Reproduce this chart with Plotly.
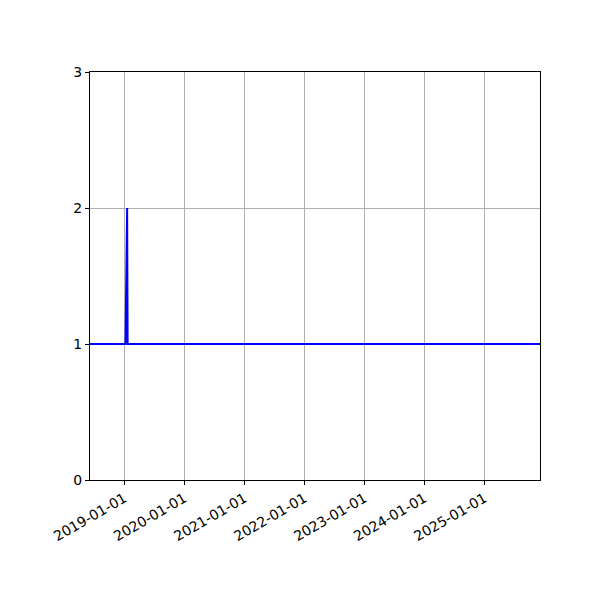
import plotly.graph_objects as go

# data
dates = ["2018-06-06", "2019-01-08", "2019-01-18", "2019-01-21", "2025-12-05"]
values = [1, 1, 2, 1, 1]
tick_dates = ["2019-01-01", "2020-01-01", "2021-01-01", "2022-01-01",
              "2023-01-01", "2024-01-01", "2025-01-01"]
y_ticks = [0, 1, 2, 3]

fig = go.Figure()
fig.add_trace(go.Scatter(x=dates, y=values, mode="lines",
                         line=dict(color="blue", width=2), showlegend=False))

axis_style = dict(showline=True, linecolor="black", linewidth=1, mirror=True,
                  ticks="outside", ticklen=4, tickcolor="black",
                  showgrid=True, gridcolor="#b0b0b0", gridwidth=1, zeroline=False,
                  tickfont=dict(family="DejaVu Sans", size=14, color="black"))

fig.update_xaxes(range=[dates[0], dates[-1]], tickvals=tick_dates,
                 ticktext=tick_dates, tickangle=-30, **axis_style)
fig.update_yaxes(range=[0, 3], tickvals=y_ticks, **axis_style)

# page has an 8px body margin, so shift margins to land the plot box on the reference
fig.update_layout(width=600, height=600,
                  margin=dict(l=82, r=68, t=64, b=128),
                  plot_bgcolor="white", paper_bgcolor="white",
                  font=dict(family="DejaVu Sans"))

fig.write_html("out.html")
